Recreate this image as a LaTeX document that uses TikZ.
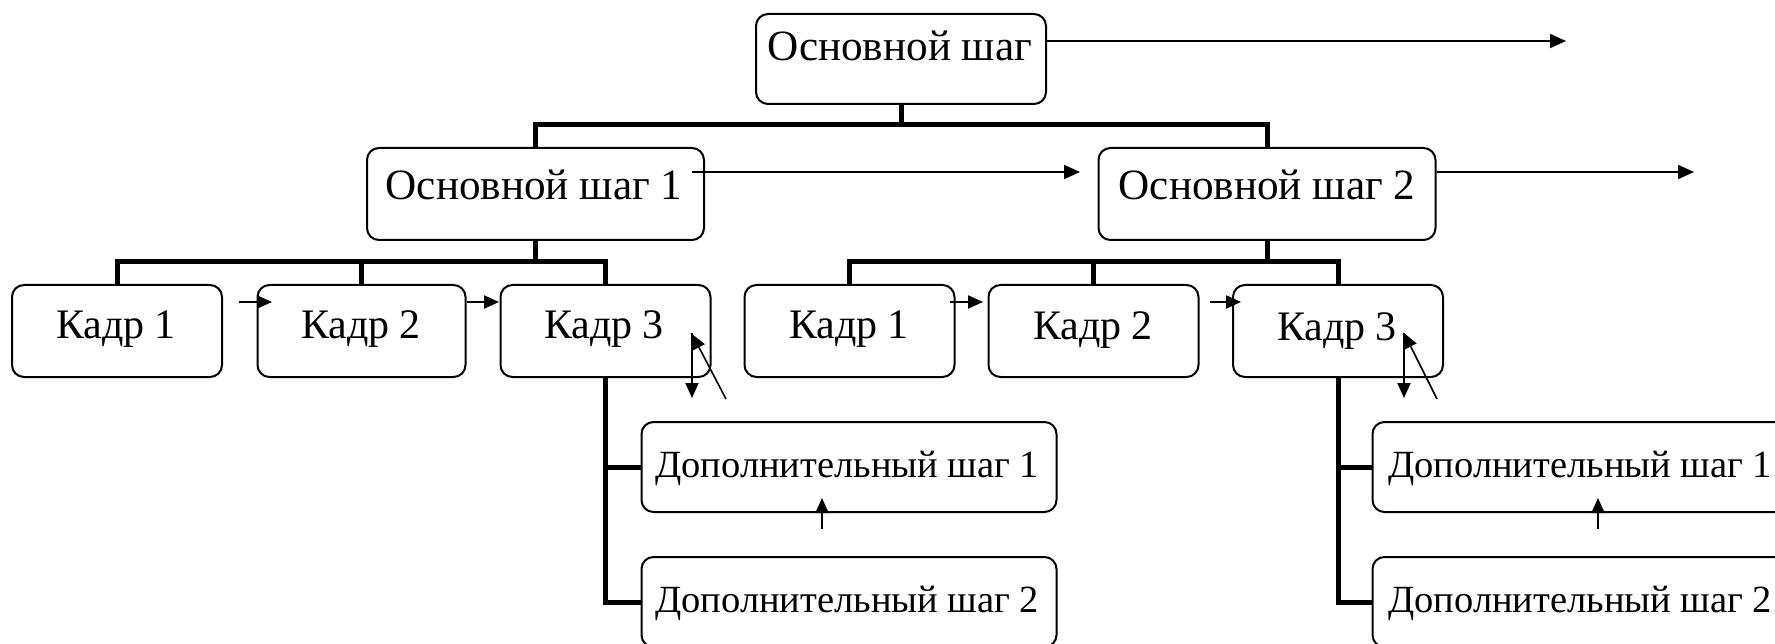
\documentclass[tikz,border=0pt]{standalone}
\usepackage{fontspec}
\setmainfont{Liberation Serif}
\usetikzlibrary{arrows.meta}
\begin{document}
\begin{tikzpicture}[x=1pt,y=-1pt,
  box/.style={draw, line width=2pt, rounded corners=12pt, inner sep=0pt},
  lbl/.style={font=\fontsize{42}{48}\selectfont, inner sep=0pt, anchor=base},
  lblb/.style={font=\fontsize{43.2}{49}\selectfont, inner sep=0pt, anchor=base},
  lblw/.style={font=\fontsize{38.5}{44}\selectfont, inner sep=0pt, anchor=base west},
  tree/.style={line width=5pt},
  arr/.style={line width=2pt, -{Triangle[length=16pt,width=14pt]}},
  sarr/.style={line width=2pt, -{Triangle[length=15pt,width=13pt]}}]
\useasboundingbox (0,0) rectangle (1775,644);
% boxes
\node[box, minimum width=290pt, minimum height=90pt] (os) at (901,59) {};
\node[box, minimum width=337pt, minimum height=92pt] (s1) at (535.5,194) {};
\node[box, minimum width=337pt, minimum height=92pt] (s2) at (1267,194) {};
\node[box, minimum width=210pt, minimum height=92pt] (kl1) at (117,331) {};
\node[box, minimum width=208pt, minimum height=92pt] (kl2) at (361.5,331) {};
\node[box, minimum width=210pt, minimum height=92pt] (kl3) at (605.5,331) {};
\node[box, minimum width=210pt, minimum height=92pt] (kr1) at (849.5,331) {};
\node[box, minimum width=210pt, minimum height=92pt] (kr2) at (1093.5,331) {};
\node[box, minimum width=210pt, minimum height=92pt] (kr3) at (1338,331) {};
\node[box, minimum width=415pt, minimum height=90pt] (dl1) at (849,467) {};
\node[box, minimum width=415pt, minimum height=90pt] (dl2) at (849,602) {};
\node[box, minimum width=415pt, minimum height=90pt] (dr1) at (1580,467) {};
\node[box, minimum width=415pt, minimum height=90pt] (dr2) at (1580,602) {};
% texts
\node[lblb] (os-t) at (900,61) {Основной шаг};
\node[lblb] (s1-t) at (534,200) {Основной шаг 1};
\node[lblb] (s2-t) at (1267,200) {Основной шаг 2};
\node[lbl] (kl1-t) at (116,338) {Кадр 1};
\node[lbl] (kl2-t) at (361,338) {Кадр 2};
\node[lbl] (kl3-t) at (604,338) {Кадр 3};
\node[lbl] (kr1-t) at (849,338) {Кадр 1};
\node[lbl] (kr2-t) at (1093,339) {Кадр 2};
\node[lbl] (kr3-t) at (1337,341) {Кадр 3};
\node[lblw] (dl1-t) at (655,477) {Дополнительный шаг 1};
\node[lblw] (dl2-t) at (655,612) {Дополнительный шаг 2};
\node[lblw] (dr1-t) at (1388,477) {Дополнительный шаг 1};
\node[lblw] (dr2-t) at (1388,612) {Дополнительный шаг 2};
% tree connectors
\draw[tree] (os.south) -- ++(0,22);
\draw[tree] (s1.north) -- ++(0,-22) -| (s2.north);
\draw[tree] (s1.south) -- ++(0,23);
\draw[tree] (kl1.north) -- ++(0,-22) -| (kl3.north);
\draw[tree] (kl2.north) -- ++(0,-22);
\draw[tree] (s2.south) -- ++(0,23);
\draw[tree] (kr1.north) -- ++(0,-22) -| (kr3.north);
\draw[tree] (kr2.north) -- ++(0,-22);
\draw[tree] (kl3.south) |- (dl2.west);
\draw[tree] (kl3.south |- dl1.west) -- (dl1.west);
\draw[tree] (kr3.south) |- (dr2.west);
\draw[tree] (kr3.south |- dr1.west) -- (dr1.west);
% long arrows
\coordinate (a0) at (1566,41);
\draw[arr] (os.east |- a0) -- (a0);
\coordinate (a1s) at (692,172);
\coordinate (a1e) at (1080,172);
\draw[arr] (a1s) -- (a1e);
\coordinate (a2) at (1694,172);
\draw[arr] (s2.east |- a2) -- (a2);
% small arrows between frames
\coordinate (b1s) at (239,302); \coordinate (b1e) at (272,302);
\coordinate (b2s) at (467,302); \coordinate (b2e) at (499,302);
\coordinate (b3s) at (950,302); \coordinate (b3e) at (983,302);
\coordinate (b4s) at (1210,302); \coordinate (b4e) at (1241,302);
\draw[sarr] (b1s) -- (b1e);
\draw[sarr] (b2s) -- (b2e);
\draw[sarr] (b3s) -- (b3e);
\draw[sarr] (b4s) -- (b4e);
% arrows at frame 3
\coordinate (c1s) at (692,333); \coordinate (c1e) at (692,398);
\coordinate (c2s) at (726,399); \coordinate (c2e) at (692,334);
\coordinate (c3s) at (1404,333); \coordinate (c3e) at (1404,398);
\coordinate (c4s) at (1437,399); \coordinate (c4e) at (1404,333);
\draw[sarr] (c1s) -- (c1e);
\draw[sarr, line width=1.6pt] (c2s) -- (c2e);
\draw[sarr] (c3s) -- (c3e);
\draw[sarr, line width=1.6pt] (c4s) -- (c4e);
% up arrows
\coordinate (u1s) at (822,529); \coordinate (u1e) at (822,498);
\coordinate (u2s) at (1598,529); \coordinate (u2e) at (1598,498);
\draw[sarr] (u1s) -- (u1e);
\draw[sarr] (u2s) -- (u2e);
\end{tikzpicture}
\end{document}
